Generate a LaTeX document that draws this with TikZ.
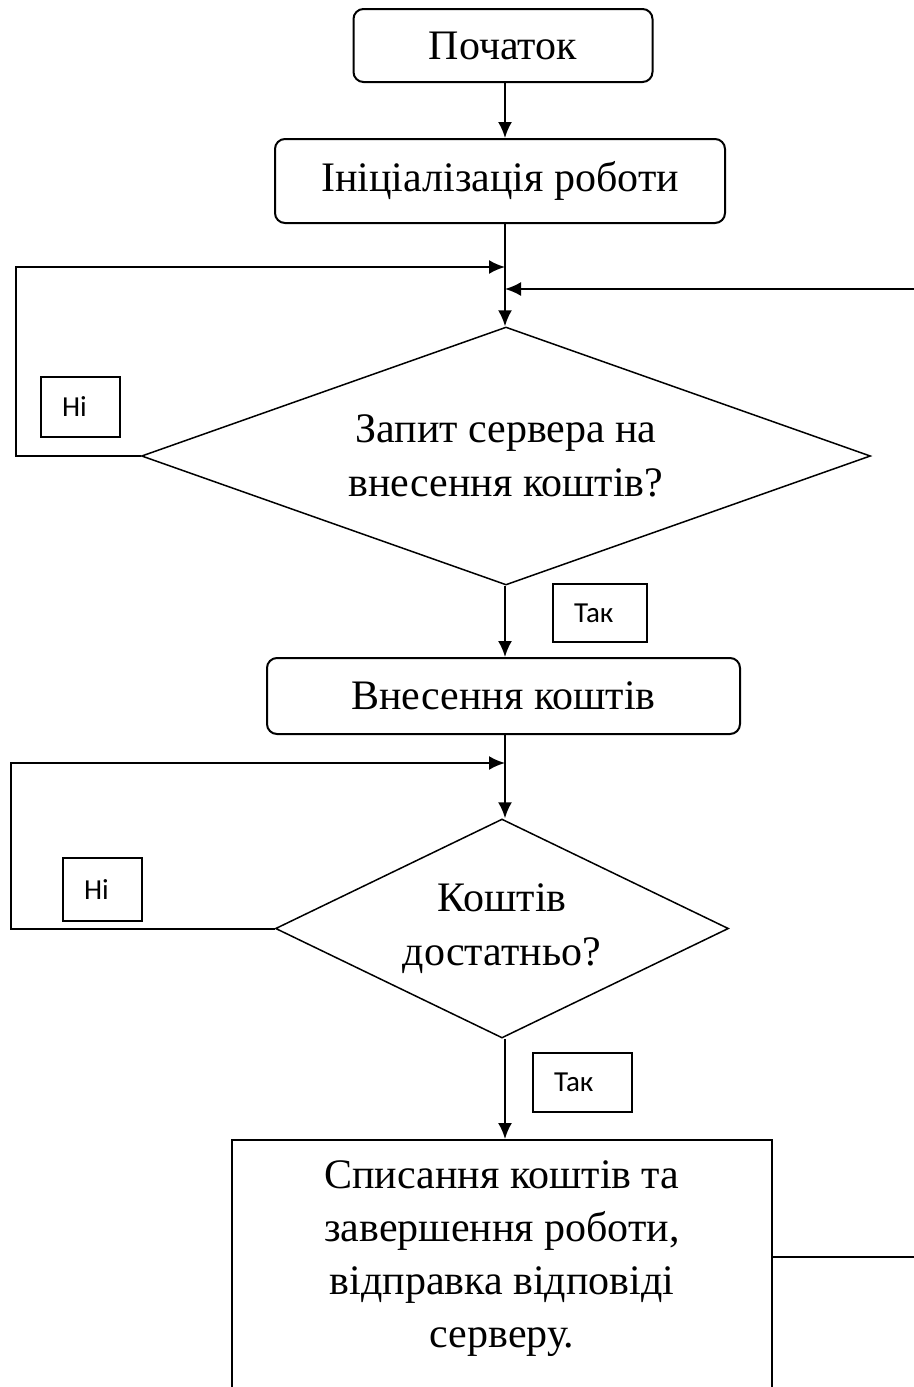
\documentclass[tikz,border=0pt]{standalone}
\usepackage{fontspec}
\setmainfont{Liberation Serif}
\newfontfamily\tagfont{Carlito}
\usetikzlibrary{shapes.geometric}
\usetikzlibrary{arrows.meta}

\begin{document}
\begin{tikzpicture}
    [
    x=0.5pt,y=-0.5pt,
    every node/.style={font=\fontsize{21}{27}\selectfont},
    block/.style={rectangle,rounded corners=5pt,draw,line width=1pt,align=center},
    plain/.style={rectangle,draw,line width=1pt,align=center},
    query/.style={diamond,draw,line width=0.75pt,align=center,inner sep=0pt},
    tag/.style={rectangle,draw,line width=0.8pt,align=left,inner xsep=10.5pt,
      font=\tagfont\fontsize{14.5}{17}\selectfont},
    arr/.style={line width=1pt,-{Latex[length=8pt,width=7pt]}},
    ]
    \useasboundingbox (0,0) rectangle (914,1387);
    \clip (0,0) rectangle (914,1387);

    \node (start) at (503,45.5) [block,minimum width=149.5pt,minimum height=36.5pt] {Початок};
    \node (init) at (500,181) [block,minimum width=225pt,minimum height=42pt] {Ініціалізація роботи};
    \node (q1) at (506,456) [query,minimum width=364.5pt,minimum height=129pt,shape aspect=2.83]
      {Запит сервера на\\внесення коштів?};
    \node (pay) at (503.5,696) [block,minimum width=236.5pt,minimum height=38pt] {Внесення коштів};
    \node (q2) at (502,928.5) [query,minimum width=226.5pt,minimum height=109.5pt,shape aspect=2.07]
      {Коштів\\достатньо?};
    \node (fin) at (502,1139) [plain,anchor=north,minimum width=270pt,inner ysep=10.5pt,
      font=\fontsize{21}{26.5}\selectfont]
      {Списання коштів та\\завершення роботи,\\відправка відповіді\\серверу.\\\mbox{}};

    \node (n1) at (80.5,407) [tag,text width=18.5pt,minimum height=30pt] {Ні};
    \node (y1) at (600,613) [tag,text width=26pt,minimum height=29pt] {Так};
    \node (n2) at (102.5,889.5) [tag,text width=18.5pt,minimum height=31.5pt] {Ні};
    \node (y2) at (582.5,1082.5) [tag,text width=28.5pt,minimum height=29.5pt] {Так};

    \coordinate (m1) at (505,267);
    \coordinate (m2) at (505,289);
    \coordinate (e1) at (914,289);
    \coordinate (m3) at (505,763);
    \coordinate (e2) at (914,1257);

    \draw [arr] (start.south -| m1) -- (init.north -| m1);
    \draw [arr] (init.south -| m1) -- (q1.north -| m1);
    \draw [arr] (q1.west) -- ++(-125,0) |- (m1);
    \draw [arr] (e1) -- (m2);
    \draw [arr] (q1.south -| m1) -- (pay.north -| m1);
    \draw [arr] (pay.south -| m3) -- (q2.north -| m3);
    \draw [arr] (q2.west) -- ++(-263.5,0) |- (m3);
    \draw [arr] (q2.south -| m3) -- (fin.north -| m3);
    \draw [line width=1pt] (fin.east |- e2) -- (e2);
  \end{tikzpicture}
\end{document}
